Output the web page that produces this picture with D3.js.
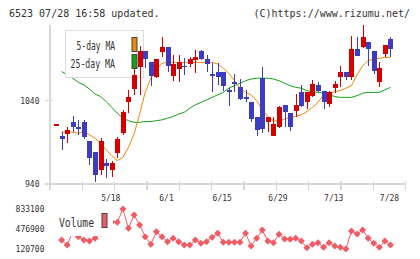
<!DOCTYPE html>
<html>
<head>
<meta charset="utf-8">
<script src="https://cdn.jsdelivr.net/npm/d3@7"></script>
<style>
  html, body { margin: 0; padding: 0; background: #fff; }
  svg { display: block; }
  text { font-family: 'DejaVu Sans Mono', 'Liberation Mono', monospace; fill: #333; }
</style>
</head>
<body>
<svg id="chart" width="420" height="259"></svg>
<script>
// daily candles, index 0 .. 60
const open  = [1012, 998,1000,1015,1009,1015, 992, 979, 957, 965, 957, 977,1001,1038,1054,1081,1100,1087,1069,1098,
               1105,1070,1078,1082,1084,1089,1100,1090,1072,1075,1075,1053,1062,1057,1044,1039,1020,1067,1015, 998,
               1008,1035,1025,1028,1050,1038,1046,1059,1052,1036,1055,1069,1075,1069,1102,1104,1110,1100,1063,1096,1114];
const high  = [1012,1003,1009,1022,1017,1017, 992, 979, 995, 970, 968, 997,1029,1053,1087,1106,1100,1087,1090,1116,
               1105,1095,1095,1091,1093,1101,1101,1095,1085,1085,1075,1055,1072,1066,1053,1039,1020,1081,1021,1021,
               1034,1035,1025,1048,1059,1051,1065,1063,1052,1052,1064,1082,1075,1118,1117,1131,1110,1100,1087,1107,1116];
const low   = [1012, 981, 989,1003, 999, 994, 963, 943, 951, 947, 948, 971, 999,1025,1047,1047,1079,1058,1067,1093,
               1075,1064,1063,1071,1081,1073,1089,1074,1050,1059,1052,1034,1051,1041,1038,1015, 998,1001,1003, 998,
               1007,1009,1004,1020,1032,1030,1044,1050,1030,1032,1049,1057,1065,1065,1094,1103,1082,1072,1057,1093,1092];
const close = [1012, 994,1005,1008,1006, 996, 971, 951, 992, 962, 965, 994,1026,1044,1071,1100,1090,1070,1090,1105,
               1082,1084,1087,1080,1090,1093,1090,1084,1070,1069,1058,1051,1060,1042,1042,1018,1005,1006,1020,1012,
               1032,1027,1009,1035,1034,1051,1060,1052,1038,1051,1060,1075,1069,1102,1094,1117,1102,1076,1079,1107,1102];

// moving averages as drawn (null = not drawn)
const ma5  = [null,1002,1003,1002,1001,1003, 999, 995, 989, 981, 974, 968, 972, 984,1000,1024,1050,1067,1077,1085,
              1086,1086,1086,1086,1086,1086,1086,1086,1086,1084,1079,1073,1064,1055,1050,1047,1040,1029,1021,1016,
              1015,1018,1020,1021,1023,1027,1032,1038,1047,1049,1051,1052,1055,1058,1071,1082,1088,1090,1091,1092,1092];
const ma25 = [null,1075,1071,1067,1062,1059,1054,1048,1045,1039,1032,1025,1019,1016,1014,1014,1015,1015,1016,1017,
              1019,1021,1024,1026,1031,1035,1038,1041,1044,1047,1050,1055,1058,1061,1064,1066,1067,1067,1067,1066,
              1064,1061,1058,1056,1055,1052,1051,1050,1049,1047,1045,1044,1044,1044,1046,1049,1050,1050,1050,1053,1056];

const volume = [null,281000,192000,424000,340000,281000,263000,311000,400000,450000,600000,596000,833100,489000,726000,548000,
                340000,204000,429000,340000,251000,311000,251000,192000,192000,281000,222000,251000,329000,400000,
                240000,240000,240000,240000,400000,174000,311000,459000,263000,233000,383000,299000,293000,311000,
                263000,144000,204000,233000,151000,233000,174000,151000,120700,441000,388000,459000,311000,222000,
                151000,263000,192000];

const dateLabels = ['5/18', '6/1', '6/15', '6/29', '7/13', '7/28'];
const dateIndex  = [10, 20, 30, 40, 50, 60];
const priceTicks = [940, 1040];
const volTicks   = [120700, 476900, 833100];

const headerLeft  = '6523 07/28 16:58 updated.';
const headerRight = '(C)https://www.rizumu.net/';

const colUp = '#d40000';
const colDown = '#3c3cc0';
const colMa5 = '#f0880a';
const colMa25 = '#16a016';
const colVol = '#f25b64';
const colAxis = '#d8d8d8';

const svg = d3.select('#chart');

let x = d3.scaleLinear().domain([-1.08, 62.73]).range([50, 405.7]);
let y = d3.scaleLinear().domain([940, 1040]).range([184, 100.7]);
let yv = d3.scaleLinear().domain([120700, 833100]).range([249, 209]);

// header
svg.append('text').attr('x', 9).attr('y', 16.5).attr('font-size', 10).text(headerLeft);
svg.append('text').attr('x', 410).attr('y', 16.5).attr('font-size', 10)
  .attr('text-anchor', 'end').text(headerRight);

// axes
let axisG = svg.append('g').attr('shape-rendering', 'crispEdges');
axisG.append('line').attr('x1', 50).attr('x2', 50).attr('y1', 25).attr('y2', 190)
  .attr('stroke', colAxis).attr('stroke-width', 1.5);
axisG.append('line').attr('x1', 50).attr('x2', 406).attr('y1', 184).attr('y2', 184)
  .attr('stroke', colAxis).attr('stroke-width', 1.5);
axisG.selectAll('line.xt')
  .data(d3.range(12))
  .join('line')
  .attr('class', 'xt')
  .attr('x1', (d) => 50 + d * (355.7 / 11))
  .attr('x2', (d) => 50 + d * (355.7 / 11))
  .attr('y1', 181).attr('y2', 190)
  .attr('stroke', colAxis).attr('stroke-width', 1.5);
axisG.selectAll('line.yt')
  .data(priceTicks)
  .join('line')
  .attr('class', 'yt')
  .attr('x1', 45).attr('x2', 53)
  .attr('y1', (d) => y(d)).attr('y2', (d) => y(d))
  .attr('stroke', colAxis).attr('stroke-width', 1.5);

svg.selectAll('text.ylab')
  .data(priceTicks)
  .join('text')
  .attr('class', 'ylab')
  .attr('x', 39.5)
  .attr('y', (d) => y(d) + 3)
  .attr('text-anchor', 'end')
  .attr('font-size', 8)
  .text((d) => d);

svg.selectAll('text.xlab')
  .data(dateLabels)
  .join('text')
  .attr('class', 'xlab')
  .attr('x', (d, i) => x(dateIndex[i]) - 1)
  .attr('y', 201)
  .attr('text-anchor', 'middle')
  .attr('font-size', 8)
  .text((d) => d);

// moving average lines
let maLine = d3.line()
  .defined((d) => d != null)
  .x((d, i) => x(i))
  .y((d) => y(d));

svg.append('path').attr('d', maLine(ma25))
  .attr('fill', 'none').attr('stroke', colMa25).attr('stroke-width', 1);
svg.append('path').attr('d', maLine(ma5))
  .attr('fill', 'none').attr('stroke', colMa5).attr('stroke-width', 1);

// legend box sits under the candles
svg.append('rect').attr('x', 65.5).attr('y', 30.5).attr('width', 78).attr('height', 47)
  .attr('fill', '#fff').attr('stroke', '#ddd').attr('stroke-width', 1);

// candles
let candles = svg.append('g').attr('shape-rendering', 'crispEdges')
  .selectAll('g')
  .data(open.map((o, i) => ({ i, o, h: high[i], l: low[i], c: close[i] })))
  .join('g');

candles.append('line')
  .attr('x1', (d) => Math.round(x(d.i)) + 0.5)
  .attr('x2', (d) => Math.round(x(d.i)) + 0.5)
  .attr('y1', (d) => y(d.h))
  .attr('y2', (d) => y(d.l))
  .attr('stroke', (d) => (d.c >= d.o ? colUp : colDown));

candles.append('rect')
  .attr('x', (d) => Math.round(x(d.i)) - 2)
  .attr('width', 5)
  .attr('y', (d) => y(Math.max(d.o, d.c)))
  .attr('height', (d) => Math.max(1.5, Math.abs(y(d.o) - y(d.c))))
  .attr('fill', (d) => (d.c >= d.o ? colUp : colDown));

// legend contents
svg.append('text').attr('x', 115).attr('y', 50).attr('text-anchor', 'end')
  .attr('font-size', 12).attr('textLength', 38.5).attr('lengthAdjust', 'spacingAndGlyphs')
  .text('5-day MA');
svg.append('text').attr('x', 115).attr('y', 67.5).attr('text-anchor', 'end')
  .attr('font-size', 12).attr('textLength', 44.5).attr('lengthAdjust', 'spacingAndGlyphs')
  .text('25-day MA');
svg.append('rect').attr('x', 132).attr('y', 37.5).attr('width', 5).attr('height', 14)
  .attr('fill', colMa5).attr('stroke', '#444').attr('stroke-width', 1);
svg.append('rect').attr('x', 132).attr('y', 54.5).attr('width', 5).attr('height', 14)
  .attr('fill', colMa25).attr('stroke', '#444').attr('stroke-width', 1);

// volume panel
svg.selectAll('text.vlab')
  .data(volTicks)
  .join('text')
  .attr('class', 'vlab')
  .attr('x', 44.5)
  .attr('y', (d) => yv(d) + 3)
  .attr('text-anchor', 'end')
  .attr('font-size', 8)
  .text((d) => d);

let volLine = d3.line()
  .defined((d) => d != null)
  .x((d, i) => x(i))
  .y((d) => yv(d));

svg.append('path').attr('d', volLine(volume))
  .attr('fill', 'none').attr('stroke', colVol).attr('stroke-width', 1);

svg.append('g')
  .selectAll('path')
  .data(volume.map((v, i) => ({ v, i })).filter((d) => d.v != null))
  .join('path')
  .attr('d', (d) => {
    let cx = x(d.i), cy = yv(d.v), r = 3.5;
    return `M${cx},${cy - r}L${cx + r},${cy}L${cx},${cy + r}L${cx - r},${cy}Z`;
  })
  .attr('fill', colVol);

// volume legend covers the first points
svg.append('rect').attr('x', 55).attr('y', 208).attr('width', 58).attr('height', 28).attr('fill', '#fff');
svg.append('text').attr('x', 59).attr('y', 226.5).attr('font-size', 12)
  .attr('textLength', 35).attr('lengthAdjust', 'spacingAndGlyphs').text('Volume');
svg.append('rect').attr('x', 102).attr('y', 213.5).attr('width', 5).attr('height', 14)
  .attr('fill', colVol).attr('stroke', '#444').attr('stroke-width', 1);
</script>
</body>
</html>
